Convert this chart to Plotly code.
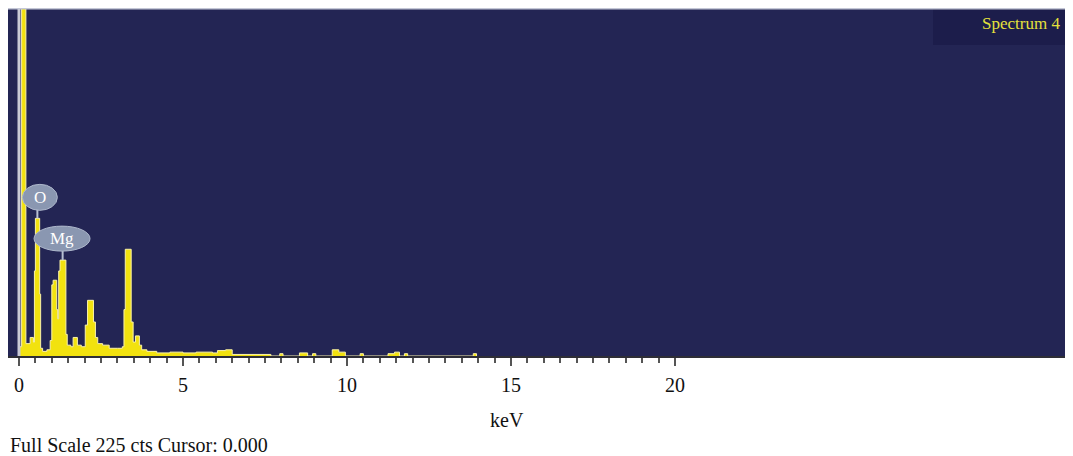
import plotly.graph_objects as go

# ---- data ----
energy_kev = [0.00, 0.08, 0.21, 0.34, 0.44, 0.47, 0.50, 0.63, 0.66, 0.72, 0.85, 0.95,
              1.00, 1.04, 1.15, 1.18, 1.21, 1.25, 1.43, 1.47, 1.58, 1.65, 1.78, 1.90,
              2.02, 2.09, 2.27, 2.33, 2.40, 2.55, 2.75, 3.00, 3.15, 3.20, 3.24, 3.42,
              3.48, 3.55, 3.67, 3.74, 3.90, 4.20, 4.60, 5.00, 5.40, 5.90, 6.05, 6.30,
              6.50, 7.68, 7.95, 8.05, 8.55, 8.80, 8.95, 9.05, 9.55, 9.75, 9.95, 10.40,
              10.50, 11.25, 11.45, 11.60, 11.75, 11.85, 13.85, 13.95]
counts = [6, 400, 8, 12, 9, 55, 89, 40, 5, 3, 4, 10,
          46, 49, 30, 24, 55, 62, 14, 7, 6, 12, 7, 6,
          20, 36, 22, 12, 8, 7, 5, 5, 6, 30, 69, 22,
          9, 13, 7, 4, 3, 2, 2.5, 2, 2.5, 2, 3.5, 4,
          1, 0, 1.5, 0, 2, 0, 1.5, 0, 4, 2.5, 0, 1.5,
          0, 1.5, 2.5, 0, 1.5, 0, 1.5, 0]

major_ticks = [0, 5, 10, 15, 20]
major_labels = ["0", "5", "10", "15", "20"]
minor_ticks = [i * 0.5 for i in range(41) if (i * 0.5) % 5 != 0]

peak_labels = ["O", "Mg"]
peak_energy = [0.56, 1.33]
peak_counts = [89, 62]

full_scale = 225
spectrum_name = "Spectrum 4"
footer_text = "Full Scale 225 cts Cursor: 0.000"
x_title = "keV"

NAVY = "#232554"
SERIF = "Liberation Serif"

# plot area on screen: x 8..1073, y 8..356 (page body has an 8px margin)
PW, PH = 1065, 348


def px(x_screen):
    return (x_screen - 8) / PW


def py(y_screen):
    return 1 - (y_screen - 8) / PH


fig = go.Figure()
fig.add_trace(go.Scatter(
    x=energy_kev, y=counts, mode="lines", line_shape="hv",
    line=dict(color="#fbf3a8", width=1),
    fill="tozeroy", fillcolor="#f2e20f", hoverinfo="skip", showlegend=False,
))

shapes = []
shapes.append(dict(type="line", xref="x", yref="paper", x0=0, x1=0, y0=0, y1=1,
                   line=dict(color="#c9cad6", width=3), layer="above"))
shapes.append(dict(type="line", xref="paper", yref="paper", x0=0, x1=1, y0=1, y1=1,
                   line=dict(color="#c4c7d6", width=3)))
shapes.append(dict(type="rect", xref="paper", yref="paper",
                   x0=px(933), x1=1, y0=py(45), y1=1,
                   fillcolor="#1c1d4b", line=dict(width=0), layer="below"))

annotations = []
ell = [(-15, 20, 8, 34), (-28.6, 27.4, 9, 34)]
for lab, e, c, (a, b, y0, y1) in zip(peak_labels, peak_energy, peak_counts, ell):
    shapes.append(dict(type="line", xref="x", yref="y", xsizemode="pixel", ysizemode="pixel",
                       xanchor=e, yanchor=c, x0=0, x1=0, y0=0, y1=y0 + 2,
                       line=dict(color="#b7c0d2", width=2)))
    shapes.append(dict(type="circle", xref="x", yref="y", xsizemode="pixel", ysizemode="pixel",
                       xanchor=e, yanchor=c, x0=a, x1=b, y0=y0, y1=y1,
                       fillcolor="#8a97b1", line=dict(color="#aeb8cc", width=1)))
    annotations.append(dict(x=e, y=c, xref="x", yref="y", text=lab, showarrow=False,
                            xshift=(a + b) / 2, yshift=(y0 + y1) / 2,
                            font=dict(family=SERIF, size=17, color="white")))

annotations.append(dict(x=px(1021), y=py(24), xref="paper", yref="paper", text=spectrum_name,
                        showarrow=False, xanchor="center", yanchor="middle",
                        font=dict(family=SERIF, size=17, color="#e4e03c")))
annotations.append(dict(x=px(507), y=py(420), xref="paper", yref="paper",
                        text=x_title, showarrow=False, xanchor="center", yanchor="middle",
                        font=dict(family=SERIF, size=20, color="#111")))
annotations.append(dict(x=0, y=py(445), xref="paper", yref="paper",
                        text=footer_text, showarrow=False, xanchor="left", yanchor="middle",
                        font=dict(family=SERIF, size=20, color="#111")))

px_per_kev = 32.8
x_lo = -(19 - 8) / px_per_kev
x_hi = x_lo + PW / px_per_kev

fig.update_layout(
    width=1065, height=448,
    margin=dict(l=0, r=0, t=0, b=100),
    paper_bgcolor="white", plot_bgcolor=NAVY,
    shapes=shapes, annotations=annotations,
    xaxis=dict(range=[x_lo, x_hi], showgrid=False, zeroline=False,
               tickmode="array", tickvals=major_ticks, ticktext=major_labels,
               ticks="outside", ticklen=8, tickwidth=2, tickcolor="#555555",
               tickfont=dict(family=SERIF, size=20, color="#111"),
               ticklabelstandoff=2,
               showline=True, linecolor="#2e2e36", linewidth=2,
               minor=dict(tickmode="array", tickvals=minor_ticks, ticks="outside",
                          ticklen=5, tickwidth=2, tickcolor="#555555")),
    yaxis=dict(range=[0, full_scale], visible=False, showgrid=False, zeroline=False),
)

fig.write_html("out.html")
